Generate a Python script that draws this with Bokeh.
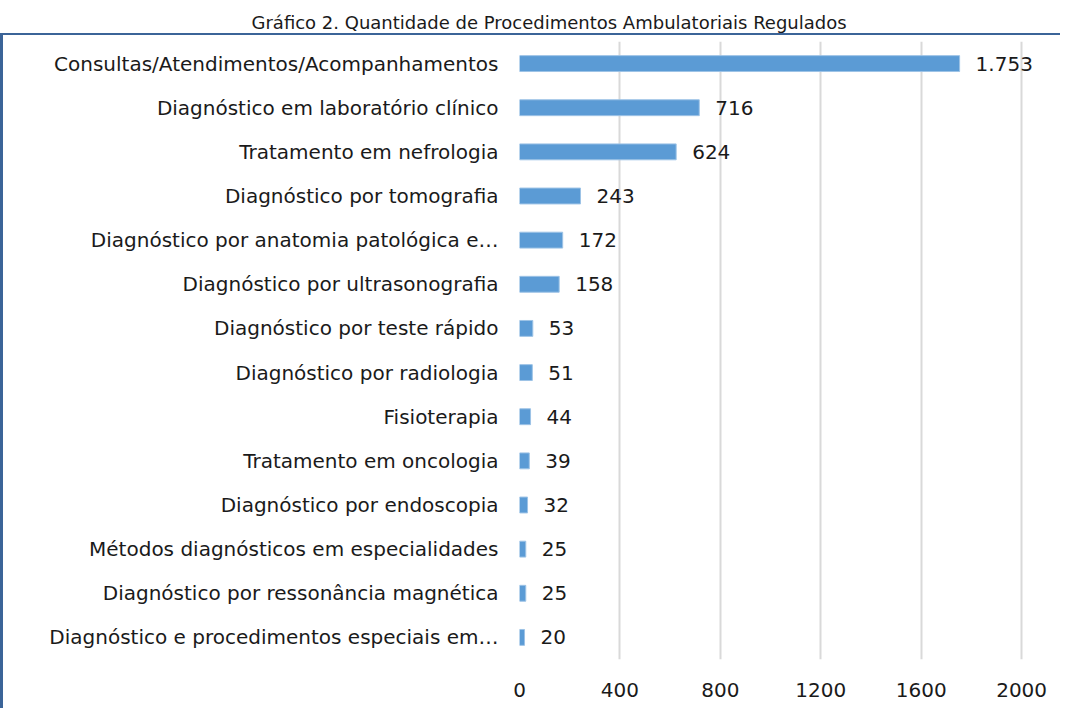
from bokeh.plotting import figure
from bokeh.models import ColumnDataSource, FactorRange, FixedTicker
from bokeh.core.properties import value
from bokeh.embed import file_html
from bokeh.resources import INLINE

categories = [
    "Consultas/Atendimentos/Acompanhamentos",
    "Diagnóstico em laboratório clínico",
    "Tratamento em nefrologia",
    "Diagnóstico por tomografia",
    "Diagnóstico por anatomia patológica e…",
    "Diagnóstico por ultrasonografia",
    "Diagnóstico por teste rápido",
    "Diagnóstico por radiologia",
    "Fisioterapia",
    "Tratamento em oncologia",
    "Diagnóstico por endoscopia",
    "Métodos diagnósticos em especialidades",
    "Diagnóstico por ressonância magnética",
    "Diagnóstico e procedimentos especiais em…",
]
values = [1753, 716, 624, 243, 172, 158, 53, 51, 44, 39, 32, 25, 25, 20]
value_labels = ["1.753", "716", "624", "243", "172", "158", "53", "51", "44", "39", "32", "25", "25", "20"]
x_ticks = [0, 400, 800, 1200, 1600, 2000]
title_text = "Gráfico 2. Quantidade de Procedimentos Ambulatoriais Regulados"

FONT = "DejaVu Sans"
W, H = 1060, 708
BLUE = "#3B6498"

src = ColumnDataSource(dict(cat=categories, val=values, lab=value_labels))

p = figure(
    width=W, height=H,
    y_range=FactorRange(*reversed(categories)),
    x_range=(0, 2119),
    output_backend="svg", toolbar_location=None,
    min_border_left=519, min_border_right=W - 1051, min_border_top=39, min_border_bottom=H - 659,
    title=title_text,
)

p.title.align = "left"
p.title.offset = -268
p.title.vertical_align = "bottom"
p.title.standoff = 18
p.title.text_font = FONT
p.title.text_font_size = "18px"
p.title.text_font_style = "normal"
p.title.text_color = "#1a1a1a"

p.hbar(y="cat", right="val", left=0, height=0.36, source=src,
       fill_color="#5B9BD5", line_color="#9DC3E6", line_width=1)

p.text(x="val", y="cat", text="lab", source=src, x_offset=16,
       text_align="left", text_baseline="middle",
       text_font=value(FONT), text_font_size="20px", text_color="#1a1a1a")

p.xaxis.ticker = FixedTicker(ticks=x_ticks)
p.xaxis.axis_line_color = None
p.xaxis.major_tick_line_color = None
p.xaxis.minor_tick_line_color = None
p.xaxis.major_tick_out = 0
p.xaxis.major_label_standoff = 23
p.xaxis.major_label_text_font = FONT
p.xaxis.major_label_text_font_size = "20px"
p.xaxis.major_label_text_color = "#1a1a1a"

p.yaxis.axis_line_color = None
p.yaxis.major_tick_line_color = None
p.yaxis.minor_tick_line_color = None
p.yaxis.major_tick_out = 0
p.yaxis.major_label_standoff = 21
p.yaxis.major_label_text_font = FONT
p.yaxis.major_label_text_font_size = "20px"
p.yaxis.major_label_text_color = "#1a1a1a"

p.ygrid.grid_line_color = None
p.xgrid.grid_line_color = "#D9D9D9"
p.xgrid.grid_line_width = 2
p.outline_line_color = None

# blue frame border (top line + left strip) drawn as CSS background behind a transparent border area
p.border_fill_color = None
p.background_fill_color = "white"
p.styles = {
    "background": (
        f"linear-gradient({BLUE}, {BLUE}) 0px 33px / 100% 2px no-repeat, "
        f"linear-gradient({BLUE}, {BLUE}) 0px 33px / 3px 100% no-repeat, white"
    )
}

open("out.html", "w").write(file_html(p, INLINE))
